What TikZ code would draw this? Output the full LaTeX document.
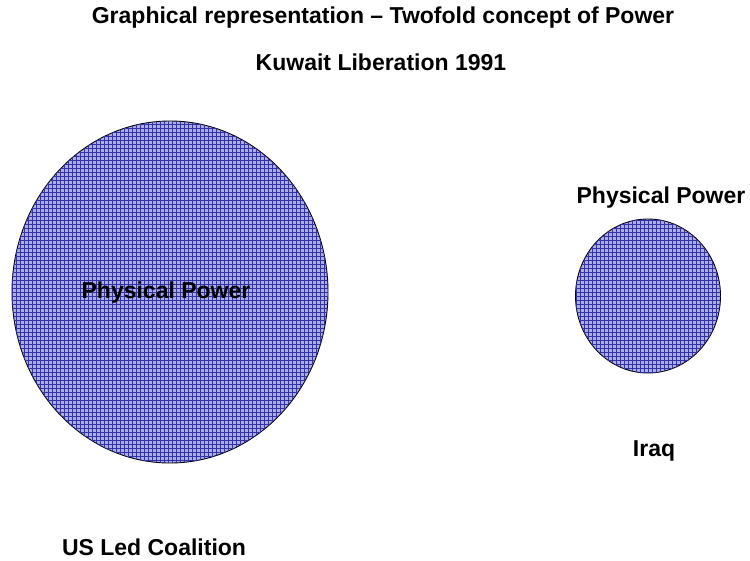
\documentclass[tikz,border=0pt]{standalone}
\usepackage{fontspec}
\setmainfont{Liberation Sans}
\usetikzlibrary{patterns,shapes.geometric}

% fine square mesh used for the power discs
\pgfdeclarepatternformonly{powermesh}{\pgfqpoint{-1pt}{-1pt}}{\pgfqpoint{5pt}{5pt}}{\pgfqpoint{4pt}{4pt}}{%
  \pgfsetlinewidth{0.65pt}%
  \pgfpathmoveto{\pgfqpoint{-0.1pt}{0pt}}\pgfpathlineto{\pgfqpoint{4.1pt}{0pt}}%
  \pgfpathmoveto{\pgfqpoint{0pt}{-0.1pt}}\pgfpathlineto{\pgfqpoint{0pt}{4.1pt}}%
  \pgfusepath{stroke}}

\definecolor{discbase}{RGB}{172,172,230}
\definecolor{discmesh}{RGB}{50,50,168}

\tikzset{
  disc/.style={ellipse, draw=black, line width=0.9pt, inner sep=0pt,
    fill=discbase, postaction={pattern=powermesh, pattern color=discmesh}},
  caption/.style={font=\fontsize{23}{26}\selectfont\bfseries, inner sep=0pt}
}

\begin{document}
\begin{tikzpicture}[x=1pt,y=-1pt]
  \useasboundingbox (0,0) rectangle (750,560);

  % headings
  \node[caption] (title) at (383,18) {Graphical representation -- Twofold concept of Power};
  \node[caption] (sub) at (381,62) {Kuwait Liberation 1991};

  % coalition side
  \node[disc, minimum width=316pt, minimum height=342pt] (coal) at (170,292) {};
  \node[caption] (coalpp) at (166,293) {Physical Power};
  \node[caption] (coalname) at (154,547) {US Led Coalition};

  % Iraqi side
  \node[disc, minimum width=145pt, minimum height=154pt] (iraq) at (648,296) {};
  \node[caption] (iraqpp) at (661,198) {Physical Power};
  \node[caption] (iraqname) at (654,451) {Iraq};
\end{tikzpicture}
\end{document}
